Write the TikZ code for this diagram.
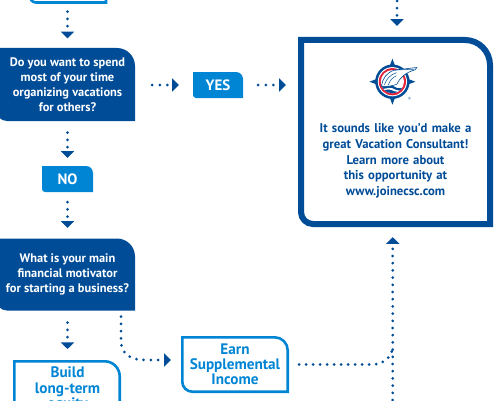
\documentclass[tikz,border=0pt]{standalone}
\usepackage{fontspec}
\setmainfont{PT Sans}
\usetikzlibrary{arrows.meta,backgrounds}
\definecolor{navy}{HTML}{004C97}
\definecolor{sky}{HTML}{0085D5}
\definecolor{logored}{HTML}{E4223C}
% \cbox{name}{x0}{x1}{ytop}{ybottom}{TR radius}{BL radius}{path style}
\newcommand\cbox[8]{%
  \begin{pgfonlayer}{background}
  \path[#8] (#2pt,{(400-#4)*1pt}) -- ({(#3-#6)*1pt},{(400-#4)*1pt})
    arc[start angle=90,end angle=0,radius=#6pt] -- (#3pt,{(400-#5)*1pt})
    -- ({(#2+#7)*1pt},{(400-#5)*1pt})
    arc[start angle=270,end angle=180,radius=#7pt] -- cycle;
  \end{pgfonlayer}}
\tikzset{
  boxnode/.style={inner sep=0pt,align=center,font=\bfseries\fontsize{12.4}{14.9}\selectfont,anchor=center},
  bigtext/.style={font=\bfseries\fontsize{15.2}{15.2}\selectfont},
  tagtext/.style={font=\bfseries\fontsize{15}{16}\selectfont},
  flow/.style={navy,line width=3pt,line cap=round,dash pattern=on 0pt off 7.2pt,
    -{Triangle[width=13pt,length=6.6pt,line cap=butt,sep=0pt]}},
  flowh/.style={flow,dash pattern=on 0pt off 7.6pt},
  plainflow/.style={navy,line width=3pt,line cap=round,dash pattern=on 0pt off 7pt},
  solidnavy/.style={fill=navy,draw=none},
  solidsky/.style={fill=sky,draw=none},
  outlinesky/.style={draw=sky,line width=2.6pt,fill=white},
  outlinenavy/.style={draw=navy,line width=6pt,fill=white},
}
\begin{document}
\begin{tikzpicture}[x=1pt,y=1pt]
\useasboundingbox (0,0) rectangle (495,400);
\clip (0,0) rectangle (495,400);
% boxes
\node[boxnode,minimum width=78pt,minimum height=20pt] (top) at (67.5,407) {};
\cbox{top}{30}{106}{-20}{2.5}{0.01}{6}{outlinesky}
\node[boxnode,text=white,minimum width=135pt,minimum height=73pt] (q1) at (67.5,400-84.5) {Do you want to spend\\most of your time\\organizing vacations\\for others?};
\cbox{q1}{-4}{135}{48}{121}{18}{11}{solidnavy}
\node[boxnode,text=white,minimum width=50pt,minimum height=26pt,tagtext] (yes) at (218,400-85) {YES};
\cbox{yes}{193}{243}{72}{98}{7}{3}{solidsky}
\node[boxnode,text=white,minimum width=51pt,minimum height=26pt,tagtext] (no) at (67.5,400-179) {NO};
\cbox{no}{42}{93}{166}{192}{7}{3}{solidsky}
\node[boxnode,text=white,minimum width=135pt,minimum height=72pt] (q2) at (67.5,400-274.5) {What is your main\\financial motivator\\for starting a business?};
\cbox{q2}{-4}{135}{238.5}{310.5}{18}{11}{solidnavy}
\node[boxnode,text=sky,minimum width=108pt,minimum height=50pt,bigtext,anchor=north] (build) at (67.5,400-360) {\\[2.5pt]Build\\long-term\\equity};
\cbox{build}{14.3}{119.7}{361.3}{430}{15}{10}{outlinesky}
\node[boxnode,text=sky,minimum width=108pt,minimum height=57pt,bigtext] (earn) at (235,400-364.5) {Earn\\Supplemental\\Income};
\cbox{earn}{182.3}{287.7}{337.3}{391.7}{13}{10}{outlinesky}
\node[boxnode,text=navy,minimum width=195pt,minimum height=190pt,text width=190pt,font=\bfseries\fontsize{12.7}{15.8}\selectfont] (end) at (395.5,400-132) {\\[51pt]It sounds like you’d make a\\great Vacation Consultant!\\Learn more about\\this opportunity at\\www.joinecsc.com};
\cbox{end}{301}{490}{40}{224}{25}{12}{outlinenavy}
% free ends
\coordinate (entry) at (397,399);
\coordinate (belowfork) at (392.7,0);
\coordinate (bend) at (121,60);
\coordinate (bendend) at (147,40);
\coordinate (merge) at (392.2,50);
% connectors
\draw[flow,shorten <=8.5pt,shorten >=9.5pt] (top.south) -- (top.south |- q1.north);
\draw[flow,shorten <=11.5pt,shorten >=8pt] (q1.south) -- (no.north);
\draw[flow,shorten <=10pt,shorten >=10.5pt] (no.south) -- (q2.north);
\draw[flowh,shorten <=17pt,shorten >=14pt] (q1.east |- yes.west) -- (yes.west);
\draw[flowh,shorten <=15pt,shorten >=12pt] (yes.east) -- (end.west |- yes.east);
\draw[flow,shorten >=11pt] (entry) -- (entry |- end.north);
\draw[flow,shorten <=12pt,shorten >=11pt] (q2.south) -- (q2.south |- build.north);
\draw[flow,shorten <=6pt,shorten >=10pt] (q2.south -| bend) -- (bend) .. controls (121,44) and (132,40) .. (bendend) -- (earn.west |- bendend);
\draw[flow,shorten >=10pt] (belowfork) -- (belowfork |- end.south);
\draw[plainflow,shorten <=10pt] (earn.east) -- ([xshift=84pt]earn.east) .. controls (381,36) and (390,40) .. (merge);
% logo
\begin{scope}[shift={(392.4,318.3)}]
  \fill[navy] (0,23) -- (3,15) -- (-3,15) -- cycle (0,-23) -- (3,-15) -- (-3,-15) -- cycle (23,0) -- (15,3) -- (15,-3) -- cycle (-23,0) -- (-15,3) -- (-15,-3) -- cycle;
  \fill[navy] (0,0) circle (17.2);
  \fill[white] (0,0) circle (14.6);
  \fill[logored] (0,0) circle (13.6);
  \fill[white] (0,0) circle (11.6);
  \begin{scope}
    \clip (0,0) circle (11.6);
    \fill[navy] (-14,-5) .. controls (-8,-2) and (-3,-1) .. (2,-5) .. controls (6,-8) and (9,-6) .. (14,-5) -- (14,-14) -- (-14,-14) -- cycle;
    \fill[white] (-12,-8.5) .. controls (-6,-6) and (-1,-5) .. (3,-8) .. controls (6,-10) and (9,-9) .. (13,-8) -- (13,-9) .. controls (8,-10.5) and (5,-11) .. (2,-9.5) .. controls (-2,-7) and (-7,-7.5) .. (-12,-9.5) -- cycle;
  \end{scope}
  \fill[white] (-11,-4.5) .. controls (-10,3) and (-6,9) .. (2,11.6) -- (24.3,14.2) -- (23,12) .. controls (14,9.5) and (8,5) .. (4.5,-2.5) .. controls (0,-4.5) and (-6,-5) .. (-11,-4.5) -- cycle;
  \draw[navy,line width=.6pt] (-11,-4.5) .. controls (-10,3) and (-6,9) .. (2,11.6) -- (24.3,14.2) -- (23,12) .. controls (14,9.5) and (8,5) .. (4.5,-2.5) .. controls (0,-4.5) and (-6,-5) .. (-11,-4.5) -- cycle;
  \draw[navy,line width=.5pt] (-8,-3) .. controls (-6,3) and (-2,7) .. (4,9) (-4,-3.5) .. controls (-3,1) and (0,4) .. (4,6) (2,11.6) -- (22,12.5);
\end{scope}
\node[text=navy,inner sep=0pt,font=\fontsize{4}{4}\selectfont] (reg) at (409.4,301) {®};
\end{tikzpicture}
\end{document}
